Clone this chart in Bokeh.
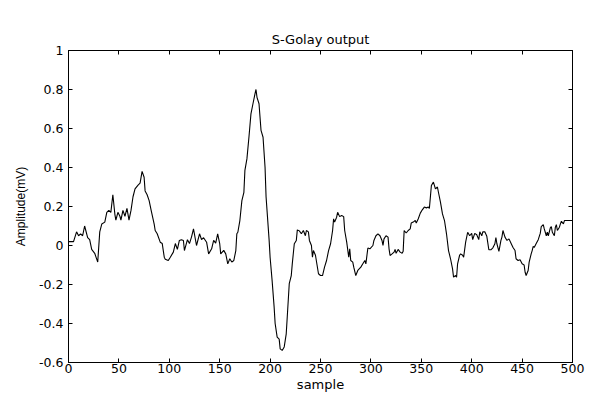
from bokeh.plotting import figure
from bokeh.models import LinearAxis, FixedTicker, Range1d, CustomLabelingPolicy
from bokeh.embed import file_html
from bokeh.resources import INLINE

# ---- data ----
samples = [0, 5, 8, 10, 12, 14, 16, 19, 21, 23, 26, 29, 31, 33, 36, 38, 40, 42, 44, 46,
           47, 49, 51, 52, 54, 56, 58, 60, 62, 64, 66, 69, 71, 73, 75, 76, 78, 80, 82, 85,
           86, 88, 91, 93, 95, 96, 99, 101, 104, 106, 108, 110, 112, 114, 115, 118, 120, 122, 124, 127,
           130, 132, 134, 137, 139, 142, 144, 146, 148, 150, 151, 154, 156, 158, 160, 162, 164, 166, 167, 168,
           170, 172, 174, 175, 177, 179, 181, 183, 185, 186, 187, 189, 191, 193, 195, 196, 199, 200, 202, 204,
           205, 207, 209, 210, 212, 214, 216, 217, 219, 221, 222, 224, 226, 227, 229, 231, 233, 235, 236, 238,
           239, 241, 242, 243, 245, 248, 250, 252, 254, 256, 258, 260, 262, 263, 264, 266, 267, 269, 271, 273,
           274, 276, 278, 279, 280, 282, 283, 285, 287, 290, 292, 294, 295, 297, 299, 302, 303, 305, 307, 309,
           311, 312, 313, 315, 317, 318, 319, 321, 323, 324, 325, 327, 329, 331, 332, 333, 335, 337, 339, 340,
           342, 344, 345, 347, 349, 351, 353, 355, 357, 358, 359, 360, 362, 363, 364, 366, 367, 369, 371, 373,
           375, 377, 379, 381, 382, 384, 385, 386, 388, 389, 391, 392, 394, 396, 398, 400, 401, 403, 405, 407,
           408, 410, 411, 413, 415, 417, 419, 421, 423, 424, 425, 427, 429, 430, 431, 433, 435, 437, 439, 441,
           443, 444, 446, 448, 450, 452, 453, 454, 456, 457, 459, 460, 461, 462, 464, 466, 468, 469, 471, 472,
           474, 475, 476, 478, 479, 480, 482, 483, 484, 485, 487, 488, 489, 491, 492, 500]
amplitude = [0.02, 0.02, 0.07, 0.05, 0.06, 0.05, 0.10, 0.04, 0.03, -0.02, -0.04, -0.085, 0.07, 0.11, 0.12, 0.17, 0.18, 0.17, 0.26, 0.16,
             0.13, 0.17, 0.15, 0.13, 0.18, 0.15, 0.19, 0.13, 0.18, 0.25, 0.29, 0.31, 0.32, 0.38, 0.35, 0.28, 0.26, 0.23, 0.18, 0.11,
             0.077, 0.06, 0.017, 0.01, -0.06, -0.07, -0.077, -0.06, -0.034, 0.01, -0.02, 0.026, 0.03, 0.026, -0.026, 0.03, 0.01, 0.043, 0.085, 0.0,
             0.06, 0.03, 0.04, 0.017, -0.043, -0.017, 0.026, 0.012, 0.06, 0.01, -0.043, -0.025, -0.043, -0.094, -0.068, -0.085, -0.077, -0.026, 0.06, 0.068,
             0.128, 0.23, 0.273, 0.385, 0.444, 0.555, 0.675, 0.727, 0.778, 0.80, 0.76, 0.727, 0.59, 0.555, 0.40, 0.25, 0.03, -0.06, -0.18, -0.316,
             -0.40, -0.47, -0.48, -0.53, -0.538, -0.52, -0.453, -0.368, -0.196, -0.154, -0.094, 0.009, 0.026, 0.08, 0.075, 0.06, 0.077, 0.05, 0.077, 0.07,
             0.026, 0.0, -0.06, -0.026, -0.05, -0.145, -0.154, -0.154, -0.111, -0.077, -0.026, 0.009, 0.077, 0.137, 0.12, 0.145, 0.17, 0.148, 0.154, 0.148,
             0.077, 0.017, -0.06, -0.017, -0.077, -0.085, -0.111, -0.154, -0.128, -0.111, -0.094, -0.077, -0.094, -0.013, -0.017, 0.0, 0.026, 0.05, 0.06, 0.05,
             0.026, 0.0, 0.034, 0.05, 0.043, -0.017, -0.051, -0.043, -0.034, -0.02, -0.04, -0.02, -0.034, -0.04, -0.03, 0.077, 0.064, 0.077, 0.085, 0.115,
             0.12, 0.128, 0.115, 0.137, 0.166, 0.183, 0.197, 0.193, 0.197, 0.19, 0.248, 0.308, 0.325, 0.308, 0.29, 0.30, 0.273, 0.222, 0.162, 0.128,
             0.06, -0.026, -0.068, -0.12, -0.162, -0.154, -0.162, -0.094, -0.05, -0.043, -0.05, -0.06, 0.017, 0.068, 0.05, 0.062, 0.03, 0.062, 0.055, 0.03,
             0.07, 0.05, 0.07, 0.07, 0.047, -0.022, -0.022, -0.012, 0.009, 0.04, 0.009, -0.03, 0.026, 0.043, 0.077, 0.043, 0.026, 0.034, 0.012, -0.01,
             -0.026, -0.068, -0.077, -0.073, -0.094, -0.1, -0.137, -0.154, -0.128, -0.085, -0.043, -0.026, -0.005, -0.01, 0.01, 0.03, 0.062, 0.097, 0.107, 0.085,
             0.05, 0.068, 0.05, 0.09, 0.097, 0.068, 0.05, 0.094, 0.107, 0.077, 0.094, 0.111, 0.124, 0.111, 0.128, 0.128]

x_ticks = [0, 50, 100, 150, 200, 250, 300, 350, 400, 450, 500]
y_ticks = [-0.6, -0.4, -0.2, 0, 0.2, 0.4, 0.6, 0.8, 1]
y_tick_labels = ["-0.6", "-0.4", "-0.2", "0", "0.2", "0.4", "0.6", "0.8", "1"]
title_text = "S-Golay output"
x_label = "sample"
y_label = "Amplitude(mV)"

FONT = "DejaVu Sans"

p = figure(width=596, height=394, output_backend="svg", toolbar_location=None,
           x_range=Range1d(0, 500), y_range=Range1d(-0.6, 1),
           min_border_left=68, min_border_right=24, min_border_top=50, min_border_bottom=32,
           title=title_text)
p.background_fill_color = "white"
p.border_fill_color = "white"
p.outline_line_color = "black"
p.outline_line_width = 1
p.grid.visible = False

p.title.align = "center"
p.title.text_font = FONT
p.title.text_font_size = "13px"
p.title.text_font_style = "normal"
p.title.text_color = "black"
p.title.standoff = 8

p.line(samples, amplitude, line_color="black", line_width=1.1)

ylabels = {v: s for v, s in zip(y_ticks, y_tick_labels)}

hide_all = CustomLabelingPolicy(code="""
for (const i of indices) indices.unset(i)
return indices
""")


def style_axis(ax, ticks, show_labels):
    ax.ticker = FixedTicker(ticks=ticks)
    ax.major_tick_in = 4
    ax.major_tick_out = 0
    ax.minor_tick_in = 0
    ax.minor_tick_out = 0
    ax.minor_tick_line_color = None
    ax.axis_line_color = "black"
    ax.axis_line_width = 1
    ax.major_tick_line_color = "black"
    ax.major_label_text_font = FONT
    ax.major_label_text_color = "black"
    ax.axis_label_text_color = "black"
    if show_labels:
        ax.major_label_text_font_size = "12.5px"
    else:
        ax.major_label_text_font_size = "0px"
        ax.major_label_policy = hide_all
        ax.major_label_standoff = 0


xa = p.xaxis[0]
style_axis(xa, x_ticks, True)
xa.major_label_standoff = 1
xa.axis_label = x_label
xa.axis_label_text_font = FONT
xa.axis_label_text_font_size = "13px"
xa.axis_label_text_font_style = "normal"
xa.axis_label_standoff = 1

ya = p.yaxis[0]
style_axis(ya, y_ticks, True)
ya.major_label_overrides = ylabels
ya.major_label_standoff = 5
ya.axis_label = y_label
ya.axis_label_text_font = "Liberation Sans"
ya.axis_label_text_font_size = "12px"
ya.axis_label_text_font_style = "normal"
ya.axis_label_standoff = 8

top_ax = LinearAxis()
style_axis(top_ax, x_ticks, False)
p.add_layout(top_ax, "above")

right_ax = LinearAxis()
style_axis(right_ax, y_ticks, False)
p.add_layout(right_ax, "right")

open("out.html", "w").write(file_html(p, INLINE))
